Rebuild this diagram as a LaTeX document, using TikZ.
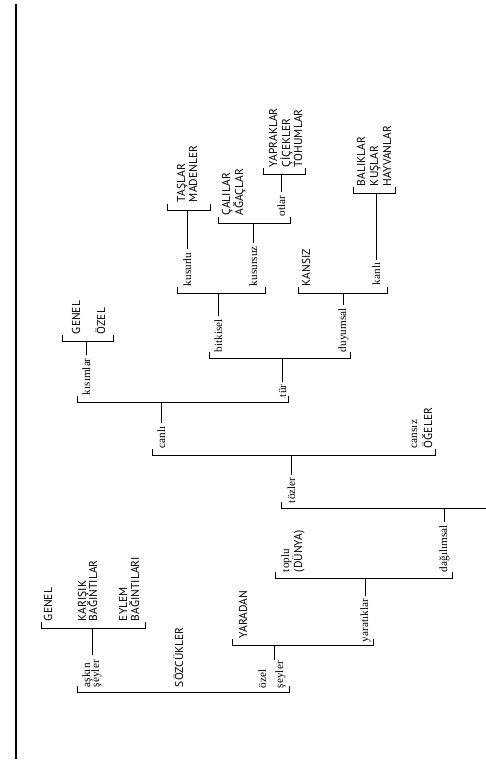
\documentclass[tikz,border=0pt]{standalone}
\usepackage{fontspec}
\setmainfont{Liberation Serif}
\newfontfamily\capfont{PT Sans}
\begin{document}
\begin{tikzpicture}[x=1pt,y=-1pt,
  lo/.style={rotate=90,anchor=base west,inner sep=0pt,outer sep=0pt,font=\fontsize{11.2}{12}\selectfont},
  up/.style={rotate=90,anchor=base west,inner sep=0pt,outer sep=0pt,font=\capfont\fontsize{11.5}{12}\selectfont},
  ln/.style={line width=0.9pt,black},
  stem/.style={ln,shorten <=3pt}]
\useasboundingbox (0,0) rectangle (486,774);
% border line
\coordinate (bt) at (16,4);
\coordinate (bb) at (16,759);
\draw[line width=1.1pt] (bt) -- (bb);
% bracket coordinates
\coordinate (tmL) at (167,210);  \coordinate (tmR) at (210,210);
\coordinate (coL) at (218,223);  \coordinate (coR) at (290,223);
\coordinate (yctL) at (263,174); \coordinate (yctR) at (305,174);
\coordinate (bitL) at (177,293); \coordinate (bitR) at (265,293);
\coordinate (bkhL) at (353,193); \coordinate (bkhR) at (395,193);
\coordinate (duyL) at (298,293); \coordinate (duyR) at (387,293);
\coordinate (turL) at (209,358); \coordinate (turR) at (350,358);
\coordinate (kisL) at (62,341);  \coordinate (kisR) at (113,341);
\coordinate (canL) at (77,402);  \coordinate (canR) at (288,402);
\coordinate (tozL) at (152,455); \coordinate (tozR) at (435,455);
\coordinate (dagL) at (281,508); \coordinate (dagR) at (486,508);
\coordinate (yarL) at (275,578); \coordinate (yarR) at (452,578);
\coordinate (ozL) at (232,645);  \coordinate (ozR) at (373,645);
\coordinate (rtL) at (77,692);   \coordinate (rtR) at (289,692);
\coordinate (akL) at (41,628);   \coordinate (akR) at (145,628);
% brackets
\foreach \b in {tm,co,yct,bit,bkh,duy,tur,kis,can,toz,yar,oz,rt,ak}
  \draw[ln] (\b L) ++(0,-6) -- (\b L) -- (\b R) -- ++(0,-6);
\draw[ln] (dagL) ++(0,-6) -- (dagL) -- (dagR);
% labels
\node[up] (TASLAR) at (185,202) {TAŞLAR};
\node[up] (MADENLER) at (197,202) {MADENLER};
\node[lo] (kusurlu) at (191,286) {kusurlu};
\node[up] (CALILAR) at (230,215) {ÇALILAR};
\node[up] (AGACLAR) at (243,215) {AĞAÇLAR};
\node[lo] (otlar) at (285,216) {otlar};
\node[up] (YAPRAKLAR) at (277,167) {YAPRAKLAR};
\node[up] (CICEKLER) at (290,167) {ÇİÇEKLER};
\node[up] (TOHUMLAR) at (302,167) {TOHUMLAR};
\node[lo] (kusursuz) at (257,286) {kusursuz};
\node[up] (KANSIZ) at (310,286) {KANSIZ};
\node[lo] (kanli) at (380,285) {kanlı};
\node[up] (BALIKLAR) at (365,186) {BALIKLAR};
\node[up] (KUSLAR) at (378,186) {KUŞLAR};
\node[up] (HAYVANLAR) at (391,186) {HAYVANLAR};
\node[lo] (bitkisel) at (222,352) {bitkisel};
\node[lo] (duyumsal) at (346,352) {duyumsal};
\node[up] (GENELa) at (80,334) {GENEL};
\node[up] (OZEL) at (105,334) {ÖZEL};
\node[lo] (kisimlar) at (90,395) {kısımlar};
\node[lo] (tur) at (286,397) {tür};
\node[lo] (canli) at (165,448) {canlı};
\node[lo] (cansiz) at (417,448) {cansız};
\node[up] (OGELER) at (432,448) {ÖĞELER};
\node[lo] (tozler) at (295,503) {tözler};
\node[lo] (dagilimsal) at (447,572) {dağılımsal};
\node[lo] (toplu) at (289,572) {toplu};
\node[up] (DUNYA) at (302,572) {(DÜNYA)};
\node[lo] (yaratiklar) at (368,642) {yaratıklar};
\node[up] (YARADAN) at (247,638) {YARADAN};
\node[lo] (ozel) at (266,688) {özel};
\node[lo] (seylerb) at (283,688) {şeyler};
\node[lo] (askin) at (90,687) {aşkın};
\node[lo] (seylera) at (99,687) {şeyler};
\node[up] (GENELb) at (52,621) {GENEL};
\node[up] (KARISIK) at (86,621) {KARIŞIK};
\node[up] (BAGa) at (97,621) {BAĞINTILAR};
\node[up] (EYLEM) at (127,621) {EYLEM};
\node[up] (BAGb) at (139,621) {BAĞINTILARI};
\node[up] (SOZCUKLER) at (183,687) {SÖZCÜKLER};
% stems
\draw[stem] (kusurlu.east) -- (kusurlu.east |- tmL);
\draw[stem] (otlar.east) -- (otlar.east |- yctL);
\draw[stem] (kusursuz.east) -- (kusursuz.east |- coL);
\draw[stem] (kanli.east) -- (kanli.east |- bkhL);
\draw[stem] (bitkisel.east) -- (bitkisel.east |- bitL);
\draw[stem] (duyumsal.east) -- (duyumsal.east |- duyL);
\draw[stem] (kisimlar.east) -- (kisimlar.east |- kisL);
\draw[stem] (tur.east) -- (tur.east |- turL);
\draw[stem] (canli.east) -- (canli.east |- canL);
\draw[stem] (tozler.east) -- (tozler.east |- tozL);
\draw[stem] (dagilimsal.east) -- (dagilimsal.east |- dagL);
\draw[stem] (yaratiklar.east) -- (yaratiklar.east |- yarL);
\coordinate (ozs) at (274,660);
\draw[ln] (ozs) -- (ozs |- ozL);
\coordinate (aks) at (92,655);
\draw[ln] (aks) -- (aks |- akL);
\end{tikzpicture}
\end{document}
